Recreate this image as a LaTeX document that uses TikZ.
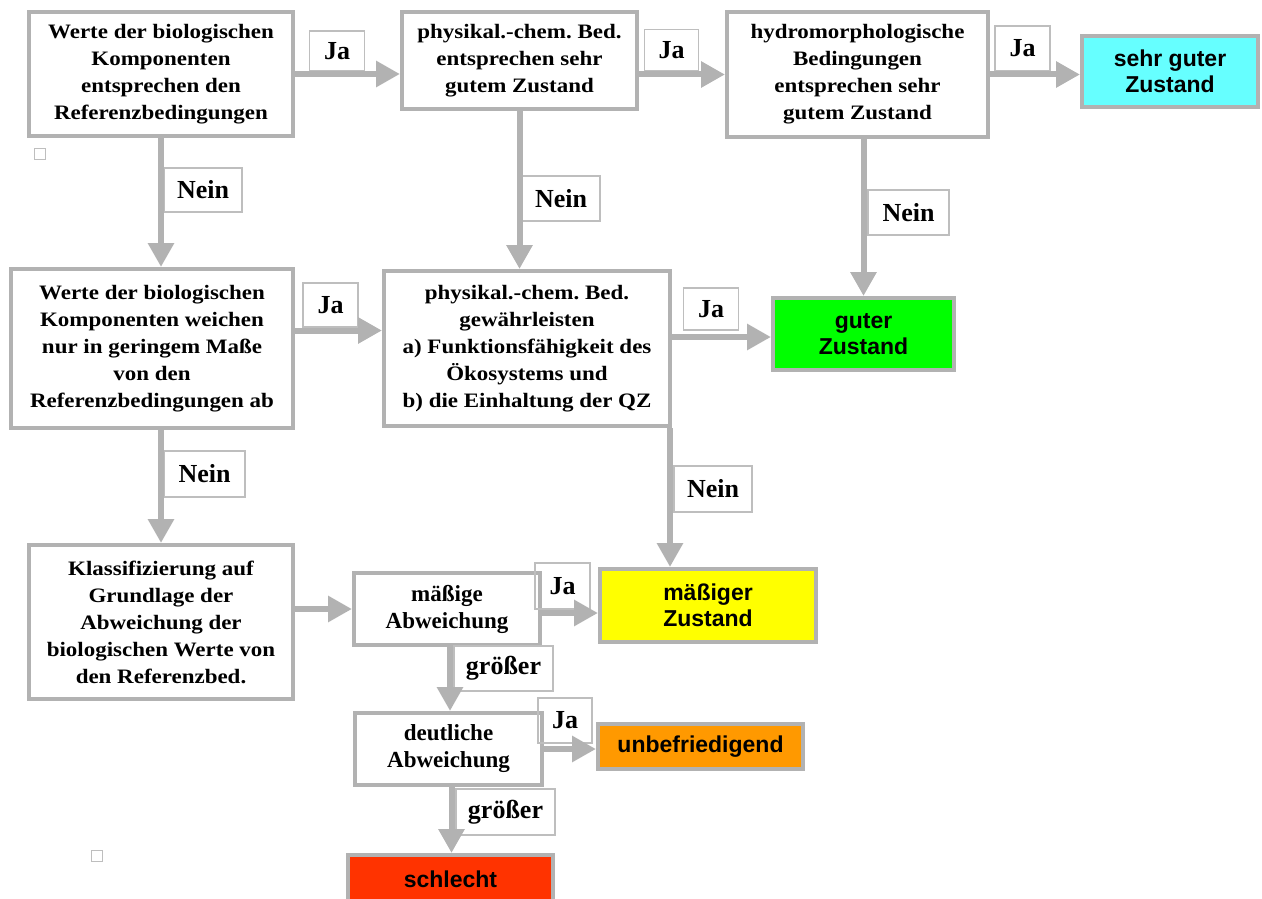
\documentclass[tikz,border=0pt]{standalone}
\usepackage{fontspec}
\setmainfont{Liberation Serif}
\setsansfont{Liberation Sans}
\newfontfamily\widefont{Liberation Serif}[FakeStretch=1.12]
\frenchspacing
\usetikzlibrary{arrows.meta,calc}
\definecolor{framegray}{RGB}{178,178,178}
\definecolor{labelgray}{RGB}{190,190,190}
\definecolor{verygood}{RGB}{102,255,255}
\definecolor{good}{RGB}{0,255,0}
\definecolor{moderate}{RGB}{255,255,0}
\definecolor{poor}{RGB}{255,153,0}
\definecolor{bad}{RGB}{255,51,0}
\begin{document}
\begin{tikzpicture}[x=1pt,y=-1pt,
  stepbox/.style={draw=framegray, line width=4pt, fill=white, inner sep=0pt,
    align=center, font=\widefont\bfseries\fontsize{20.5}{27}\selectfont},
  smallstep/.style={stepbox, font=\bfseries\fontsize{23}{27}\selectfont},
  resultbox/.style={draw=framegray, line width=4pt, inner sep=0pt,
    align=center, font=\sffamily\bfseries\fontsize{23}{26}\selectfont},
  answer/.style={draw=labelgray, line width=1.5pt, inner sep=0pt,
    font=\bfseries\fontsize{26}{28}\selectfont},
  flow/.style={draw=framegray, line width=6pt, -{Triangle[length=24pt,width=25pt]}},
  marker/.style={draw=labelgray, line width=1pt, minimum size=11pt, inner sep=0pt}
]
\useasboundingbox (0,0) rectangle (1262,899);

% decision and step boxes
\node[stepbox, minimum width=264pt, minimum height=124pt] (b1) at (161,74)
  {Werte der biologischen\\Komponenten\\entsprechen den\\Referenzbedingungen};
\node[stepbox, minimum width=235pt, minimum height=97pt] (b2) at (519.5,60.5)
  {physikal.-chem. Bed.\\entsprechen sehr\\gutem Zustand};
\node[stepbox, minimum width=261pt, minimum height=125pt] (b3) at (857.5,74.5)
  {hydromorphologische\\Bedingungen\\entsprechen sehr\\gutem Zustand};
\node[stepbox, minimum width=282pt, minimum height=159pt] (b5) at (152,348.5)
  {Werte der biologischen\\Komponenten weichen\\nur in geringem Maße\\von den\\Referenzbedingungen ab};
\node[stepbox, minimum width=286pt, minimum height=155pt] (b6) at (527,348.5)
  {physikal.-chem. Bed.\\gewährleisten\\a) Funktionsfähigkeit des\\Ökosystems und\\b) die Einhaltung der QZ};
\node[stepbox, minimum width=264pt, minimum height=154pt] (b8) at (161,622)
  {Klassifizierung auf\\Grundlage der\\Abweichung der\\biologischen Werte von\\den Referenzbed.};
\node[smallstep, minimum width=186pt, minimum height=72pt] (b9) at (447,609)
  {mäßige\\Abweichung};
\node[smallstep, minimum width=187pt, minimum height=72pt] (b11) at (448.5,749)
  {deutliche\\Abweichung};

% resulting status classes
\node[resultbox, fill=verygood, minimum width=176pt, minimum height=71pt] (b4) at (1170,71.5)
  {sehr guter\\Zustand};
\node[resultbox, fill=good, minimum width=181pt, minimum height=72pt] (b7) at (863.5,334)
  {guter\\Zustand};
\node[resultbox, fill=moderate, minimum width=216pt, minimum height=73pt] (b10) at (708,605.5)
  {mäßiger\\Zustand};
\node[resultbox, fill=poor, minimum width=205pt, minimum height=45pt] (b12) at (700.5,746.5)
  {unbefriedigend};
\node[resultbox, fill=bad, minimum width=205pt, minimum height=48pt] (b13) at (450.5,879)
  {schlecht};

% small empty markers
\node[marker] (m1) at (39.5,154) {};
\node[marker] (m2) at (97,856) {};

% answer labels
\node[answer, minimum width=55pt, minimum height=40pt] (ja1) at (337,51) {\raisebox{-4pt}{Ja}};
\node[answer, minimum width=54pt, minimum height=41pt] (ja2) at (671.5,50) {Ja};
\node[answer, minimum width=55pt, minimum height=45pt] (ja3) at (1022.5,48.5) {Ja};
\node[answer, minimum width=55pt, minimum height=44pt] (ja4) at (330.5,305) {Ja};
\node[answer, minimum width=55pt, minimum height=42pt] (ja5) at (711,309) {Ja};
\node[answer, minimum width=55pt, minimum height=46pt] (ja6) at (562.5,586) {Ja};
\node[answer, minimum width=54pt, minimum height=45pt] (ja7) at (565,720.5) {Ja};
\node[answer, minimum width=78pt, minimum height=44pt] (nein1) at (203,190) {Nein};
\node[answer, minimum width=78pt, minimum height=45pt] (nein2) at (561,198.5) {Nein};
\node[answer, minimum width=81pt, minimum height=45pt] (nein3) at (908.5,212.5) {Nein};
\node[answer, minimum width=81pt, minimum height=46pt] (nein4) at (204.5,474) {Nein};
\node[answer, minimum width=78pt, minimum height=46pt] (nein5) at (713,489) {Nein};
\node[answer, minimum width=99pt, minimum height=45pt] (gr1) at (503.5,668.5) {größer};
\node[answer, minimum width=99pt, minimum height=46pt] (gr2) at (505.5,812) {größer};

% connectors
\coordinate (s4) at ($(b5.east)+(0,-18)$);
\coordinate (e6) at ($(b7.west)+(0,3)$);
\coordinate (s6) at ($(b6.south east)+(-2,0)$);
\coordinate (s9) at ($(b9.east)+(0,4)$);
\coordinate (d9) at ($(b9.south)+(3,0)$);
\coordinate (d11) at ($(b11.south)+(3,0)$);

\draw[flow] (b1.east) -- (b1.east -| b2.west);
\draw[flow] (b2.east |- b3.west) -- (b3.west);
\draw[flow] (b3.east) -- (b3.east -| b4.west);
\draw[flow] (b1.south) -- (b1.south |- b5.north);
\draw[flow] (b2.south) -- (b2.south |- b6.north);
\draw[flow] (b3.south -| b7.north) -- (b7.north);
\draw[flow] (s4) -- (s4 -| b6.west);
\draw[flow] (b6.east |- e6) -- (e6);
\draw[flow] (b5.south -| b8.north) -- (b8.north);
\draw[flow] (s6) -- (s6 |- b10.north);
\draw[flow] (b8.east |- b9.west) -- (b9.west);
\draw[flow] (s9) -- (s9 -| b10.west);
\draw[flow] (d9) -- (d9 |- b11.north);
\draw[flow] (b11.east) -- (b11.east -| b12.west);
\draw[flow] (d11) -- (d11 |- b13.north);
\end{tikzpicture}
\end{document}
